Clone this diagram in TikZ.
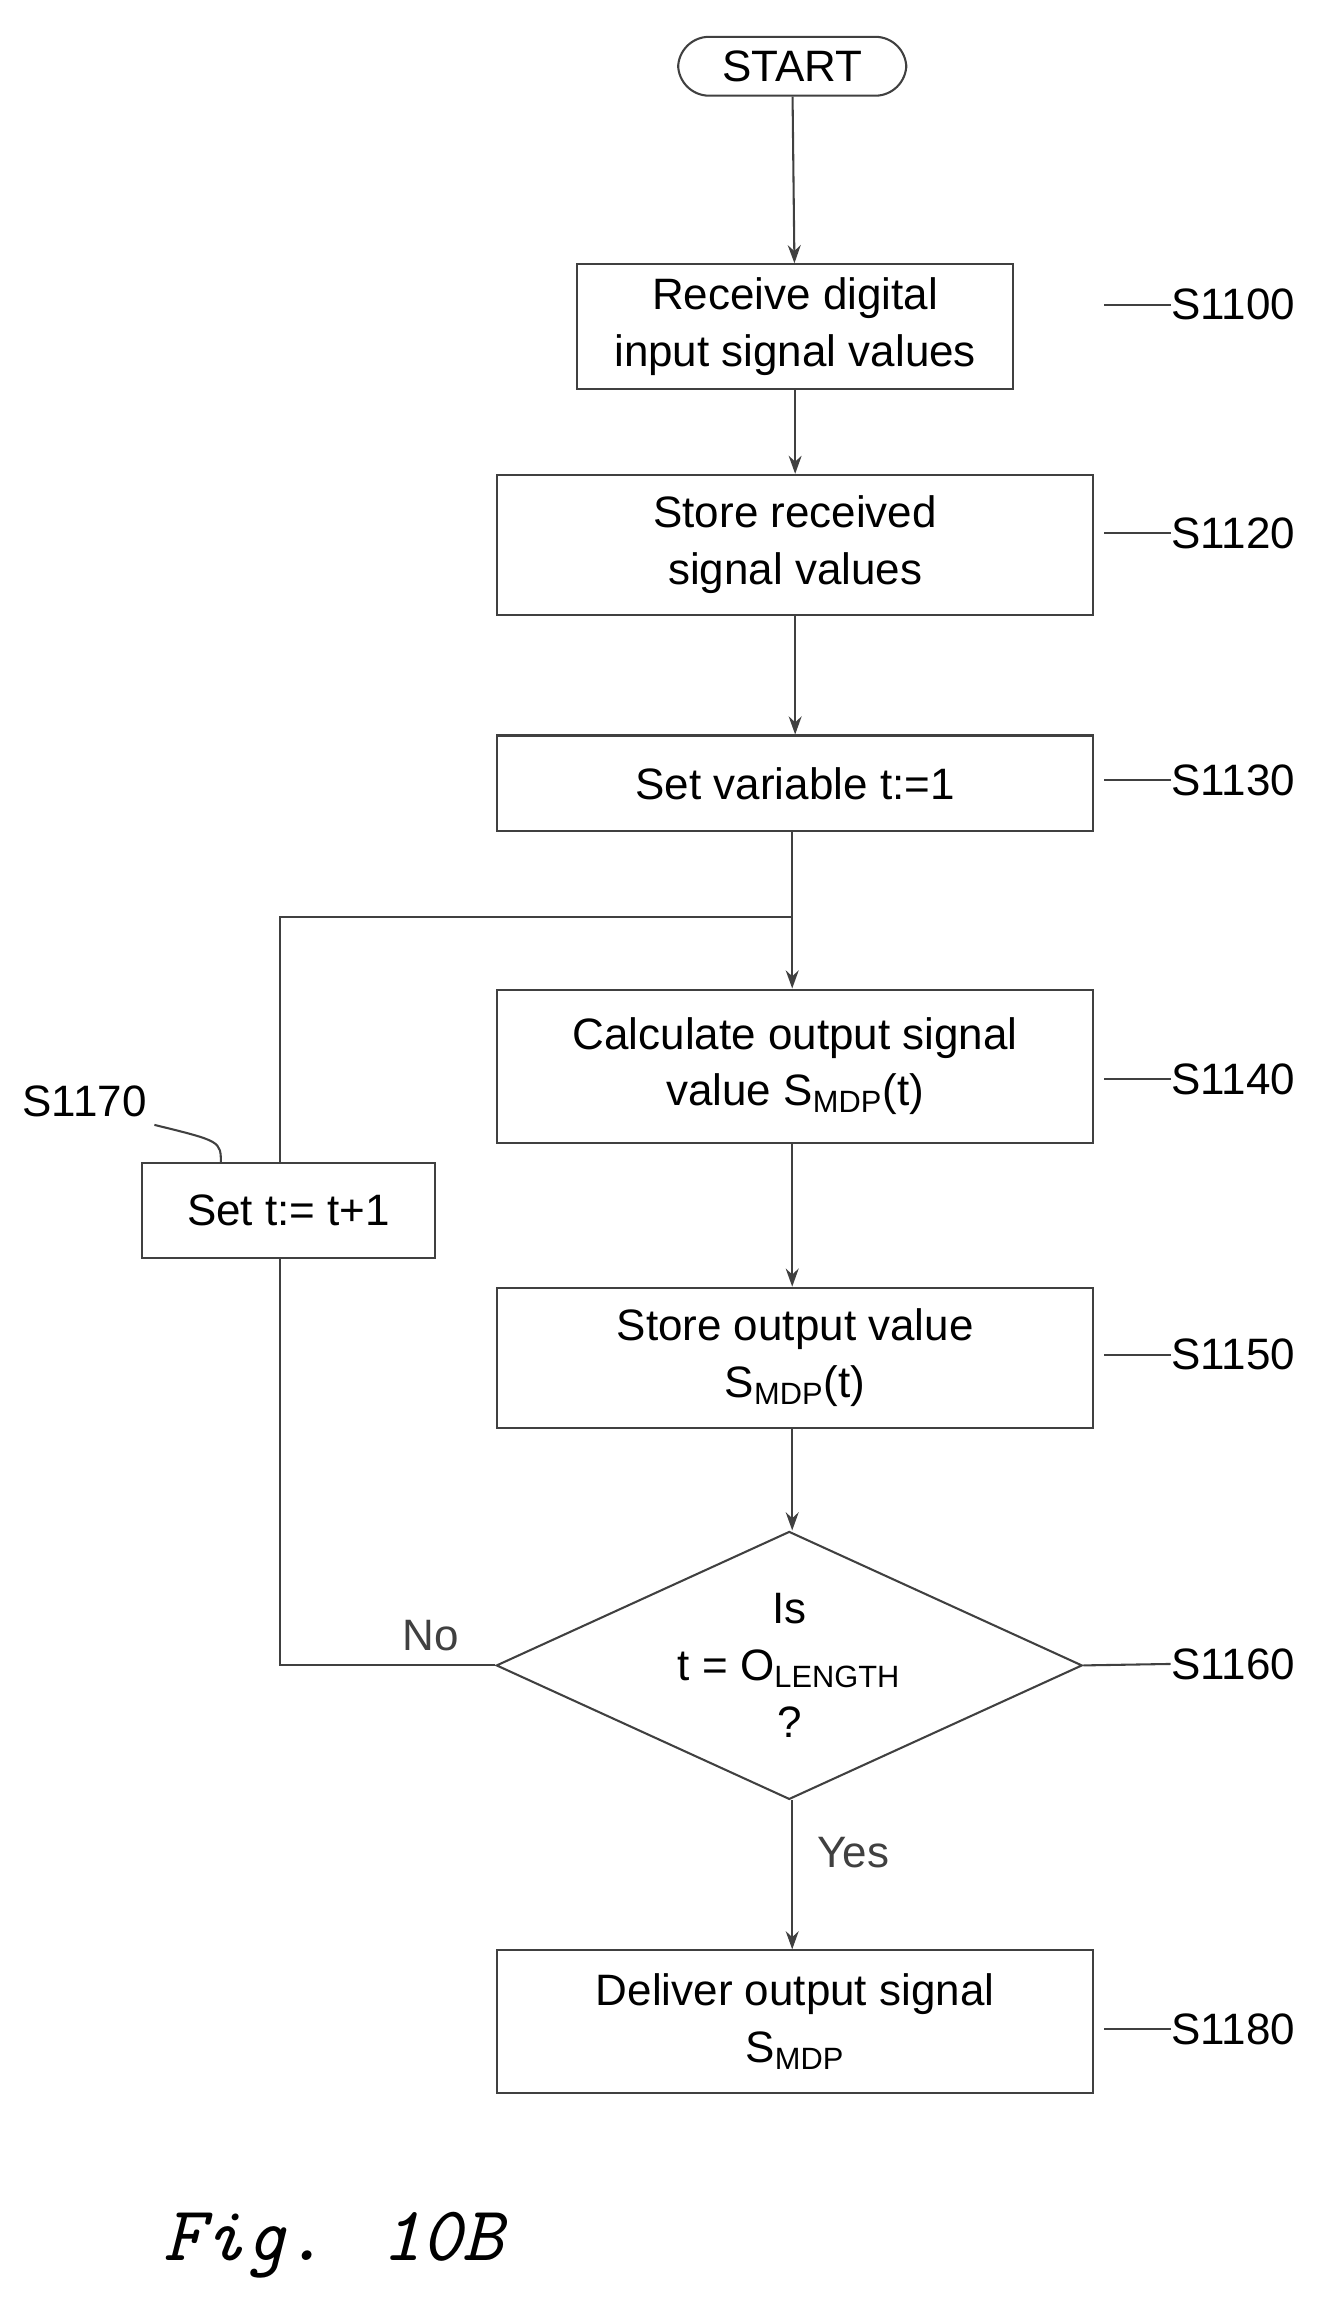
\documentclass[tikz,border=0pt]{standalone}
\usepackage{fontspec}
\setmainfont{Liberation Sans}
\usetikzlibrary{positioning,arrows.meta,shapes.geometric}
\begin{document}
\begin{tikzpicture}[
            x=0.02cm, y=-0.02cm,
            font=\fontsize{17}{22}\selectfont,
            block/.style={rectangle, draw=black!75, line width=0.8pt, align=center, inner sep=0pt},
            arrow/.style={-{Stealth[length=7pt,width=5pt]}, line width=0.8pt, black!75},
            line/.style={line width=0.8pt, black!75},
            tag/.style={anchor=west, inner sep=0pt}
        ]
        \useasboundingbox (0,0) rectangle (910,1564);
        \node[block, rounded corners=12pt, minimum width=3.1cm, minimum height=0.8cm] (start) at (538,45) {START};
        \node[block, minimum width=5.92cm, minimum height=1.7cm] (s1100) at (540,222) {Receive digital\\input signal values};
        \node[block, minimum width=8.1cm, minimum height=1.9cm] (s1120) at (540,370) {Store received\\signal values};
        \node[block, minimum width=8.1cm, minimum height=1.3cm] (s1130) at (540,532) {Set variable t:=1};
        \coordinate (join) at (538,623);
        \node[block, minimum width=8.1cm, minimum height=2.08cm] (s1140) at (540,724) {Calculate output signal\\value S$_{\mathrm{MDP}}$(t)};
        \node[block, minimum width=3.98cm, minimum height=1.3cm] (s1170) at (196,822) {Set t:= t+1};
        \node[block, minimum width=8.1cm, minimum height=1.9cm] (s1150) at (540,922) {Store output value\\S$_{\mathrm{MDP}}$(t)};
        \node[diamond, draw=black!75, line width=0.8pt, aspect=2.2, minimum width=7.96cm, minimum height=3.64cm, inner sep=0pt, align=center] (s1160) at (536,1131) {Is\\t = O$_{\mathrm{LENGTH}}$\\?};
        \node[block, minimum width=8.1cm, minimum height=1.94cm] (s1180) at (540,1373) {Deliver output signal\\S$_{\mathrm{MDP}}$};
        % step labels
        \node[tag] (t1100) at (795,207) {S1100};
        \node[tag] (t1120) at (795,362) {S1120};
        \node[tag] (t1130) at (795,530) {S1130};
        \node[tag] (t1140) at (795,733) {S1140};
        \node[tag] (t1150) at (795,920) {S1150};
        \node[tag] (t1160) at (795,1130) {S1160};
        \node[tag] (t1180) at (795,1378) {S1180};
        \node[tag] (t1170) at (15,748) {S1170};
        \draw[line] (t1100.west) -- ++(-45,0);
        \draw[line] (t1120.west) -- ++(-45,0);
        \draw[line] (t1130.west) -- ++(-45,0);
        \draw[line] (t1140.west) -- ++(-45,0);
        \draw[line] (t1150.west) -- ++(-45,0);
        \draw[line] (t1160.west) -- (s1160.east);
        \draw[line] (t1180.west) -- ++(-45,0);
        \draw[line] (t1170.south east) ++(5,5) .. controls (150,775) .. (150,790);
        % main flow
        \draw[arrow] (start) -- (s1100);
        \draw[arrow] (s1100) -- (s1120);
        \draw[arrow] (s1120) -- (s1130);
        \draw[line] (s1130.south -| join) -- (join);
        \draw[arrow] (join) -- (s1140.north -| join);
        \draw[arrow] (s1140.south -| join) -- (s1150.north -| join);
        \draw[arrow] (s1150.south -| join) -- (s1160.north -| join);
        \draw[arrow] (s1160.south -| join) -- node[right=6pt, pos=0.35] (yes) {Yes} (s1180.north -| join);
        % loop back
        \draw[line] (s1160.west) -- node[above=2pt, pos=0.3] (no) {No} (190,1131) -- (190,855);
        \draw[line] (190,790) -- (190,623) -- (join);
        \node[anchor=west, font=\fontsize{30}{34}\selectfont\ttfamily\itshape] (fig) at (105,1525) {Fig. 10B};
        \end{tikzpicture}
\end{document}
